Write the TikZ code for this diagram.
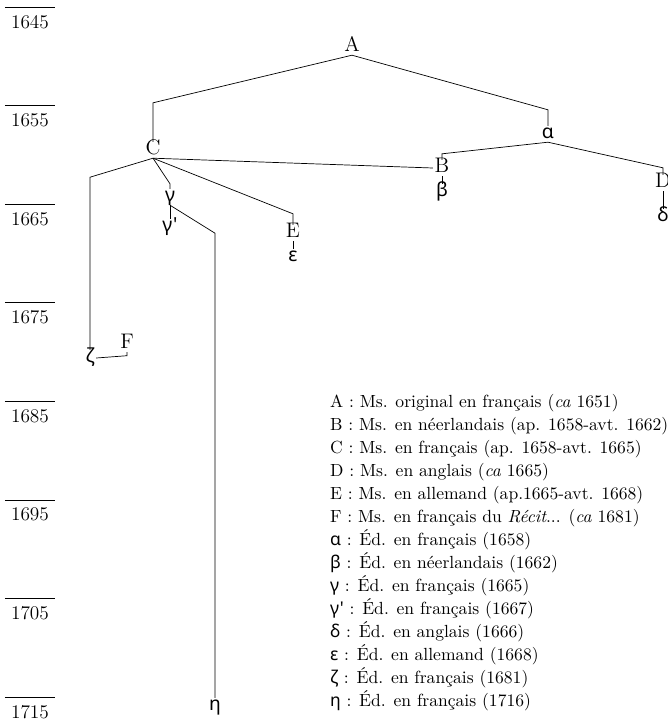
\documentclass[tikz,border=0pt]{standalone}
\usepackage{fontspec}
\newfontfamily\grk{Noto Sans}
\usetikzlibrary{positioning}

\begin{document}
\begin{tikzpicture}
[x=0.2mm,y=-0.2mm,
 every node/.style={inner sep=1pt,outer sep=0pt},
 ms/.style={font=\fontsize{12}{14}\selectfont,text height=1.5ex,text depth=.2ex},
 ed/.style={font=\grk\fontsize{11}{13}\selectfont,text height=1.4ex,text depth=.3ex},
 yr/.style={font=\fontsize{11}{13}\selectfont,inner sep=0pt,text depth=0pt},
 key/.style={font=\fontsize{10}{13.1}\selectfont,align=left,inner sep=0pt,anchor=north west}]

\useasboundingbox (0,0) rectangle (668,719);

% scale
\foreach \yr [count=\i from 0] in {1645,1655,1665,1675,1685,1695,1705,1715}
  \draw (5,{7+98.6*\i}) -- (55,{7+98.6*\i}) node[yr,midway,below=1.6mm] (y\yr) {\yr};

% manuscripts
\node[ms] (A)      at (352,47)                                 {A};
\node[ed] (alpha)  [on grid,below right=17.4mm and 39.2mm of A] {α};
\node[ms] (C)      [on grid,below left=20.6mm and 39.8mm of A]  {C};
\node[ms] (B)      [on grid,below left=6.8mm and 21.2mm of alpha] {B};
\node[ms] (D)      [on grid,below right=9.8mm and 23mm of alpha]  {D};
\node[ms] (E)      [on grid,below right=16.6mm and 28mm of C]   {E};

% editions
\node[ed] (beta)   [on grid,below=4.8mm of B]                   {β};
\node[ed] (delta)  [on grid,below=6.8mm of D]                   {δ};
\node[ed] (gamma)  [on grid,below right=9.4mm and 3.4mm of C]   {γ};
\node[ed] (gammap) [on grid,below=6mm of gamma]                 {γ'};
\node[ed] (eps)    [on grid,below=4.8mm of E]                   {ε};
\node[ed] (zeta)   [on grid,below left=41.6mm and 12.6mm of C]  {ζ};
\node[ms] (F)      [on grid,above right=2.8mm and 7.4mm of zeta] {F};
\node[ed] (eta)    [on grid,below right=95.8mm and 9mm of gammap] {η};

\draw (A.south)     -- ([yshift=7.8mm]C.north)                -- (C.north);
\draw (A.south)     -- ([yshift=3.2mm]alpha.north)            -- (alpha.north);
\draw (alpha.south) -- ([yshift=1.2mm]B.north)                -- (B.north);
\draw (alpha.south) -- ([yshift=1.4mm]D.north)                -- (D.north);
\draw (B.south)     -- (beta.north);
\draw (D.south)     -- (delta.north);
\draw (C.south)     -- (B.west);
\draw (C.south)     -- ([yshift=-3.8mm]C.south -| zeta.north) -- (zeta.north);
\draw (C.south)     -- ([yshift=1.0mm]gamma.north)            -- (gamma.north);
\draw (C.south)     -- ([yshift=2.2mm]E.north)                -- (E.north);
\draw (E.south)     -- (eps.north);
\draw (gamma.south) -- (gammap.north);
\draw (gamma.south) -- ([yshift=-5.6mm]gamma.south -| eta.north) -- (eta.north);
\draw (F.south)     -- ([yshift=-0.7mm]F.south)               -- (zeta.east);

% key
\node[key] (legend) at (330,394)
 {A : Ms. original en français (\textit{ca} 1651)\\
  B : Ms. en néerlandais (ap. 1658-avt. 1662)\\
  C : Ms. en français (ap. 1658-avt. 1665)\\
  D : Ms. en anglais (\textit{ca} 1665)\\
  E : Ms. en allemand (ap.1665-avt. 1668)\\
  F : Ms. en français du \textit{Récit}... (\textit{ca} 1681)\\
  {\grk α} : Éd. en français (1658)\\
  {\grk β} : Éd. en néerlandais (1662)\\
  {\grk γ} : Éd. en français (1665)\\
  {\grk γ'} : Éd. en français (1667)\\
  {\grk δ} : Éd. en anglais (1666)\\
  {\grk ε} : Éd. en allemand (1668)\\
  {\grk ζ} : Éd. en français (1681)\\
  {\grk η} : Éd. en français (1716)};

\end{tikzpicture}
\end{document}
